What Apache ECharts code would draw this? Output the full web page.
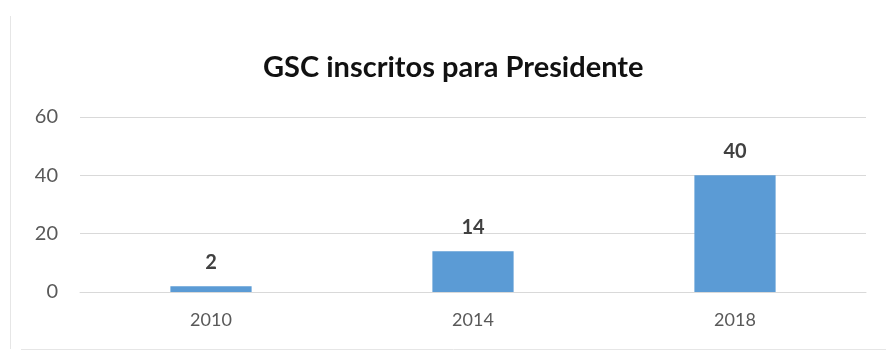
<!DOCTYPE html>
<html><head><meta charset="utf-8">
<script src="https://cdn.jsdelivr.net/npm/echarts@6/dist/echarts.min.js"></script>
<style>html,body{margin:0;padding:0;background:#fff}#c{width:886px;height:351px}</style>
</head><body><div id="c"></div>
<script>
const categories = ['2010', '2014', '2018'];
const values = [2, 14, 40];
const yTicks = [0, 20, 40, 60];

const chart = echarts.init(document.getElementById('c'));
chart.setOption({
  animation: false,
  backgroundColor: '#fff',
  title: {
    text: 'GSC inscritos para Presidente',
    left: 258, top: 48,
    textStyle: { fontFamily: 'Lato', fontWeight: 'bold', fontSize: 29, color: '#111' }
  },
  graphic: [
    { type: 'line', shape: { x1: 10.5, y1: 16, x2: 10.5, y2: 349 }, style: { stroke: '#e6e6e6', lineWidth: 1 } },
    { type: 'line', shape: { x1: 21, y1: 349.5, x2: 886, y2: 349.5 }, style: { stroke: '#e6e6e6', lineWidth: 1 } }
  ],
  grid: { left: 80, right: 20, top: 117, bottom: 59 },
  xAxis: {
    type: 'category', data: categories,
    axisLine: { show: true, lineStyle: { color: '#d9d9d9', width: 1 } },
    axisTick: { show: false },
    axisLabel: { color: '#595959', fontSize: 18, fontFamily: 'Lato', margin: 19 }
  },
  yAxis: {
    type: 'value', min: 0, max: 60, interval: 20,
    axisLine: { show: false }, axisTick: { show: false },
    splitLine: { lineStyle: { color: '#d9d9d9', width: 1 } },
    axisLabel: { color: '#595959', fontSize: 20, fontFamily: 'Lato', margin: 22,
      formatter: v => yTicks.includes(v) ? String(v) : '' }
  },
  series: [{
    type: 'bar', data: values, barWidth: '31%',
    itemStyle: { color: '#5b9bd5' },
    label: { show: true, position: 'top', distance: 14, color: '#404040', fontSize: 20, fontWeight: 'bold', fontFamily: 'Lato' }
  }]
});
</script></body></html>
